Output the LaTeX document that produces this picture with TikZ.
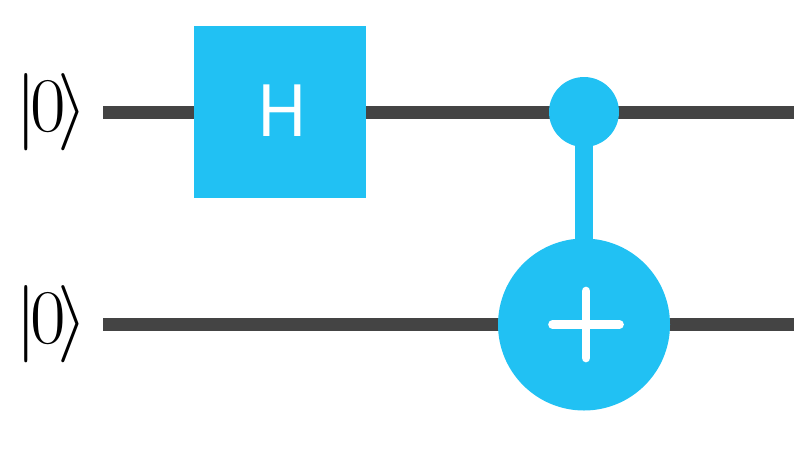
\documentclass[tikz,border=0pt]{standalone}
\usepackage{fix-cm}
\usepackage{fontspec}
\usetikzlibrary{backgrounds}
\newfontfamily\gatefont{PT Sans}
\definecolor{gateblue}{RGB}{33,193,243}
\definecolor{wiregray}{RGB}{68,68,68}
\newcommand{\ketzero}{$|\mkern-1.3mu 0\mkern-2mu\rangle$}

\begin{document}
\begin{tikzpicture}[
		wire/.style={line width=1.3mm,color=wiregray},
		ketlabel/.style={inner sep=0pt,font=\fontsize{22}{22}\selectfont},
		gatebox/.style={draw=none,fill=gateblue,inner sep=0pt,minimum size=1.715cm,text=white,font=\gatefont\fontsize{21}{21}\selectfont},
		control/.style={circle,fill=gateblue,inner sep=0pt,minimum size=0.7cm},
		target/.style={circle,fill=gateblue,inner sep=0pt,minimum size=1.72cm},
		stem/.style={line width=1.75mm,color=gateblue},
		cross/.style={line width=0.87mm,color=white,line cap=round}
	]
	\useasboundingbox (0,0) rectangle (7.94,4.64);
	\coordinate (w1_start) at (1.03,3.52);
	\coordinate (w1_end) at (7.94,3.52);
	\coordinate (w2_start) at (1.03,1.395);
	\coordinate (w2_end) at (7.94,1.395);

	\node[ketlabel] (ket1) at (0.515,3.52) {\ketzero};
	\node[ketlabel] (ket2) at (0.515,1.395) {\ketzero};
	\node[gatebox] (H) at (2.80,3.52) {\raisebox{0.03cm}{\hspace*{0.05cm}H}};
	\node[control] (ctrl) at (5.84,3.52) {};
	\node[target] (targ) at (5.84,1.395) {};

	\begin{pgfonlayer}{background}
		\draw[wire] (w1_start) -- (H.center);
		\draw[wire] (H.center) -- (ctrl.center);
		\draw[wire] (ctrl.center) -- (w1_end);
		\draw[wire] (w2_start) -- (targ.center);
		\draw[wire] (targ.center) -- (w2_end);
		\draw[stem] (ctrl.center) -- (targ.center);
	\end{pgfonlayer}

	\draw[cross] ([shift={(-0.315,0)}]targ.center) -- ++(0.67,0);
	\draw[cross] ([shift={(0.02,-0.335)}]targ.center) -- ++(0,0.67);
\end{tikzpicture}
\end{document}
